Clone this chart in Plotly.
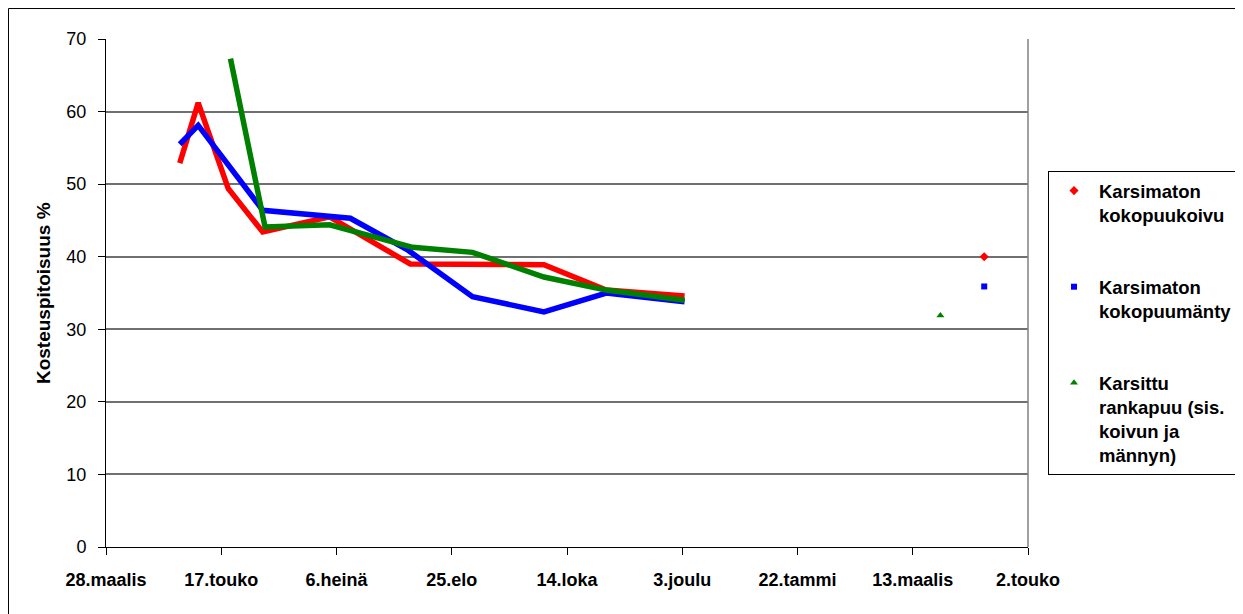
import plotly.graph_objects as go

# ---- data ----
tick_dates = ["2006-03-28", "2006-05-17", "2006-07-06", "2006-08-25", "2006-10-14",
              "2006-12-03", "2007-01-22", "2007-03-13", "2007-05-02"]
tick_labels = ["28.maalis", "17.touko", "6.heinä", "25.elo", "14.loka",
               "3.joulu", "22.tammi", "13.maalis", "2.touko"]

koivu_dates = ["2006-04-29", "2006-05-07", "2006-05-20", "2006-06-04", "2006-07-03",
               "2006-08-07", "2006-10-04", "2006-10-31", "2006-12-04"]
koivu_values = [52.9, 61.2, 49.4, 43.4, 45.5, 39.0, 38.9, 35.4, 34.6]

manty_dates = ["2006-04-29", "2006-05-07", "2006-06-04", "2006-07-12", "2006-08-06",
               "2006-09-03", "2006-10-04", "2006-10-31", "2006-12-04"]
manty_values = [55.5, 58.1, 46.4, 45.3, 40.9, 34.5, 32.4, 35.0, 33.8]

ranka_dates = ["2006-05-21", "2006-06-04", "2006-06-05", "2006-07-03", "2006-08-08",
               "2006-09-03", "2006-10-04", "2006-10-31", "2006-12-04"]
ranka_values = [67.3, 45.7, 44.1, 44.4, 41.3, 40.6, 37.2, 35.4, 34.0]

# later single measurements
koivu_late_dates = ["2007-04-13"]
koivu_late_values = [40.0]
manty_late_dates = ["2007-04-13"]
manty_late_values = [35.9]
ranka_late_dates = ["2007-03-25"]
ranka_late_values = [31.9]

series_names = ["Karsimaton<br>kokopuukoivu", "Karsimaton<br>kokopuumänty",
                "Karsittu<br>rankapuu (sis.<br>koivun ja<br>männyn)"]

FONT = "Liberation Sans, Arial, sans-serif"

fig = go.Figure()

specs = [
    (koivu_dates, koivu_values, koivu_late_dates, koivu_late_values, "#FF0000", "diamond", 7),
    (manty_dates, manty_values, manty_late_dates, manty_late_values, "#0000FF", "square", 6),
    (ranka_dates, ranka_values, ranka_late_dates, ranka_late_values, "#008000", "triangle-up", 7),
]
for i, (d, v, ld, lv, col, sym, ms) in enumerate(specs):
    g = "g%d" % i
    fig.add_trace(go.Scatter(x=d, y=v, mode="lines", line=dict(color=col, width=5.5),
                             legendgroup=g, showlegend=False, hoverinfo="x+y"))
    fig.add_trace(go.Scatter(x=ld, y=lv, mode="markers", name=series_names[i],
                             marker=dict(color=col, symbol=sym, size=ms),
                             legendgroup=g, showlegend=True))

fig.update_layout(
    width=1235, height=606,
    margin=dict(l=98, r=215, t=31, b=67, autoexpand=False),
    paper_bgcolor="white", plot_bgcolor="white",
    font=dict(family=FONT, color="black", size=18),
    showlegend=True,
    legend=dict(x=1.0217, y=0.74, xanchor="left", yanchor="top",
                bordercolor="black", borderwidth=1, itemwidth=40,
                traceorder="grouped", tracegroupgap=45, valign="top",
                font=dict(family=FONT, size=18.5, weight="bold")),
    xaxis=dict(type="date", range=["2006-03-28", "2007-05-02"],
               tickmode="array", tickvals=tick_dates, ticktext=tick_labels,
               showgrid=False, showline=True, linecolor="black", linewidth=1,
               ticks="outside", ticklen=7, tickcolor="black",
               tickfont=dict(family=FONT, size=18, weight="bold"),
               ticklabelstandoff=9, zeroline=False),
    yaxis=dict(range=[0, 70], tickmode="linear", tick0=0, dtick=10,
               showgrid=True, gridcolor="#707070", gridwidth=1.5,
               showline=True, linecolor="black", linewidth=1,
               ticks="outside", ticklen=7, tickcolor="black",
               tickfont=dict(family=FONT, size=18),
               ticklabelstandoff=8, zeroline=False),
)

fig.add_annotation(text="Kosteuspitoisuus %", xref="paper", yref="paper",
                   x=-0.0683, y=0.5, xanchor="center", yanchor="middle",
                   showarrow=False, textangle=-90,
                   font=dict(family=FONT, size=19, weight="bold"))

# plot area right border
fig.add_shape(type="line", xref="paper", yref="paper", x0=1, x1=1, y0=0, y1=1,
              line=dict(color="#808080", width=1.5))
# outer chart border
fig.add_shape(type="rect", xref="paper", yref="paper",
              x0=-0.10575, x1=1.231, y0=-0.2, y1=1.06,
              line=dict(color="black", width=1))

fig.write_html("out.html")
